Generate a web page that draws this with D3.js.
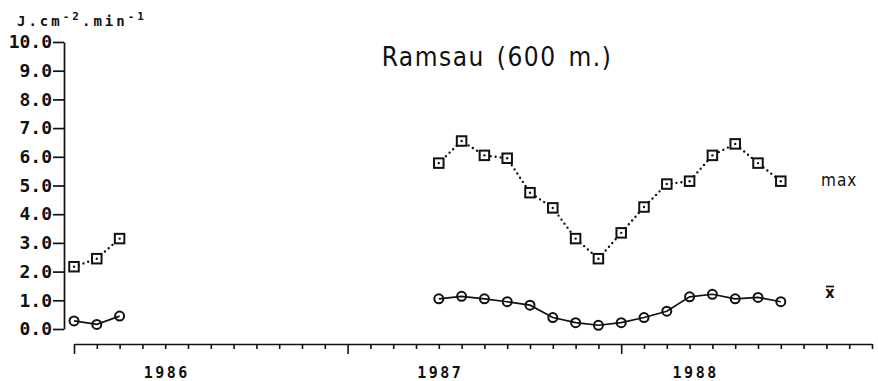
<!DOCTYPE html>
<html>
<head>
<meta charset="utf-8">
<script src="https://cdn.jsdelivr.net/npm/d3@7/dist/d3.min.js"></script>
<style>
  html, body { margin: 0; padding: 0; background: #fff; }
  svg { display: block; }
</style>
</head>
<body>
<svg id="chart" width="878" height="381"></svg>
<script>
// ---- data ----
const months = [0, 1, 2, 16, 17, 18, 19, 20, 21, 22, 23, 24, 25, 26, 27, 28, 29, 30, 31];
const meanValues = [0.28, 0.16, 0.45, 1.05, 1.14, 1.05, 0.95, 0.83, 0.40, 0.22, 0.13, 0.22, 0.40, 0.62, 1.12, 1.21, 1.05, 1.10, 0.95];
const maxValues = [2.17, 2.45, 3.15, 5.78, 6.55, 6.05, 5.95, 4.75, 4.22, 3.15, 2.45, 3.35, 4.25, 5.05, 5.15, 6.05, 6.45, 5.78, 5.15];
const yTicks = [0, 1, 2, 3, 4, 5, 6, 7, 8, 9, 10];
const monthTicks = [0,1,2,3,4,5,6,7,8,9,10,11,12,13,14,15,16,17,18,19,20,21,22,23,24,25,26,27,28,29,30,31,32,33,34,35];
const majorTicks = [0, 12, 24];
const yearLabels = ["1986", "1987", "1988"];
const yearLabelMonths = [4, 16, 27.2];
const title = "Ramsau (600 m.)";
const seriesLabels = ["max", "x"];

// ---- drawing ----
const svg = d3.select("#chart");
const x = d3.scaleLinear().domain([0, 35]).range([74, 872]);
const y = d3.scaleLinear().domain([0, 10]).range([329, 42]);
const ink = "#111";

// Y axis
const yAxis = svg.append("g").attr("transform", "translate(64,0)")
  .call(d3.axisLeft(y).tickValues(yTicks).tickFormat(d3.format(".1f"))
    .tickSize(11).tickSizeOuter(0).tickPadding(1));
yAxis.select(".domain").attr("stroke", ink).attr("stroke-width", 1.7);
yAxis.selectAll(".tick line").attr("stroke", ink).attr("stroke-width", 1.7);
yAxis.selectAll(".tick text")
  .attr("fill", ink)
  .style("font-family", "'DejaVu Sans Mono', monospace")
  .style("font-weight", "bold")
  .style("font-size", "18px");

// X axis
const xAxis = svg.append("g").attr("transform", "translate(0,344)")
  .call(d3.axisBottom(x).tickValues(monthTicks).tickFormat("")
    .tickSize(5).tickSizeOuter(0));
xAxis.select(".domain").attr("stroke", ink).attr("stroke-width", 1.7);
xAxis.selectAll(".tick line").attr("stroke", ink).attr("stroke-width", 1.6)
  .attr("y2", d => majorTicks.includes(d) ? 10 : 5);

// Year labels
svg.append("g").selectAll("text").data(yearLabels).join("text")
  .attr("x", (d, i) => x(yearLabelMonths[i]) + 1.5)
  .attr("y", 378)
  .attr("text-anchor", "middle")
  .attr("fill", ink)
  .style("font-family", "'DejaVu Sans Mono', monospace")
  .style("font-weight", "bold")
  .style("font-size", "15px")
  .style("letter-spacing", "2.5px")
  .text(d => d);

// Unit label
const unit = svg.append("text")
  .attr("x", 17).attr("y", 26)
  .attr("fill", ink)
  .style("font-family", "'DejaVu Sans Mono', monospace")
  .style("font-weight", "bold")
  .style("font-size", "14px")
  .style("letter-spacing", "3px");
unit.append("tspan").text("J.cm");
unit.append("tspan").attr("dy", -6).style("font-size", "11px").text("-2");
unit.append("tspan").attr("dy", 6).text(".min");
unit.append("tspan").attr("dy", -6).style("font-size", "11px").text("-1");

// Title
svg.append("text")
  .attr("x", 497).attr("y", 66)
  .attr("text-anchor", "middle")
  .attr("fill", ink)
  .style("font-family", "'DejaVu Sans Condensed', 'DejaVu Sans', sans-serif")
  .style("font-size", "26px")
  .style("letter-spacing", "1.5px")
  .style("word-spacing", "3px")
  .text(title);

// split into contiguous runs
const pts = months.map((m, i) => ({ m, mean: meanValues[i], max: maxValues[i] }));
const runs = [];
pts.forEach((p, i) => {
  if (i === 0 || p.m - pts[i - 1].m !== 1) runs.push([]);
  runs[runs.length - 1].push(p);
});

// Max series: dotted line + squares
const maxLine = d3.line().x(d => x(d.m)).y(d => y(d.max));
svg.append("g").selectAll("path").data(runs).join("path")
  .attr("d", maxLine)
  .attr("fill", "none")
  .attr("stroke", ink)
  .attr("stroke-width", 2.4)
  .attr("stroke-linecap", "round")
  .attr("stroke-dasharray", "0,5");
const sq = 9.5;
svg.append("g").selectAll("rect").data(pts).join("rect")
  .attr("x", d => x(d.m) - sq / 2)
  .attr("y", d => y(d.max) - sq / 2)
  .attr("width", sq).attr("height", sq)
  .attr("fill", "#fff")
  .attr("stroke", ink)
  .attr("stroke-width", 2);
svg.append("g").selectAll("circle").data(pts).join("circle")
  .attr("cx", d => x(d.m)).attr("cy", d => y(d.max))
  .attr("r", 1.2).attr("fill", ink);

// Mean series: solid line + circles
const meanLine = d3.line().x(d => x(d.m)).y(d => y(d.mean));
svg.append("g").selectAll("path").data(runs).join("path")
  .attr("d", meanLine)
  .attr("fill", "none")
  .attr("stroke", ink)
  .attr("stroke-width", 1.7);
svg.append("g").selectAll("circle").data(pts).join("circle")
  .attr("cx", d => x(d.m)).attr("cy", d => y(d.mean))
  .attr("r", 4.5)
  .attr("fill", "none")
  .attr("stroke", ink)
  .attr("stroke-width", 2);

// Series labels
svg.append("text")
  .attr("x", 821).attr("y", 186)
  .attr("fill", ink)
  .style("font-family", "'DejaVu Sans Condensed', 'DejaVu Sans', sans-serif")
  .style("font-size", "17px")
  .style("letter-spacing", "1px")
  .text(seriesLabels[0]);
svg.append("text")
  .attr("x", 830).attr("y", 298)
  .attr("text-anchor", "middle")
  .attr("fill", ink)
  .style("font-family", "'DejaVu Sans Condensed', 'DejaVu Sans', sans-serif")
  .style("font-weight", "bold")
  .style("font-size", "16px")
  .text(seriesLabels[1]);
svg.append("line")
  .attr("x1", 826).attr("x2", 834)
  .attr("y1", 286.5).attr("y2", 286.5)
  .attr("stroke", ink).attr("stroke-width", 1.7);
</script>
</body>
</html>
